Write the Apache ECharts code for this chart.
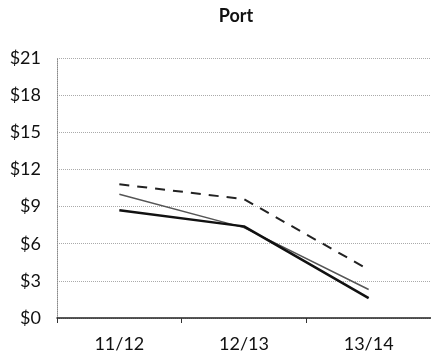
<!DOCTYPE html>
<html><head><meta charset="utf-8">
<script src="https://cdn.jsdelivr.net/npm/echarts@6/dist/echarts.min.js"></script>
<style>html,body{margin:0;padding:0;background:#fff}#c{width:431px;height:358px}</style>
</head><body><div id="c"></div>
<script>
var categories = ['11/12', '12/13', '13/14'];
var dashedSeries = [10.8, 9.6, 3.9];
var thinSeries = [10.0, 7.3, 2.3];
var thickSeries = [8.7, 7.4, 1.6];
var yTicks = [0, 3, 6, 9, 12, 15, 18, 21];

var chart = echarts.init(document.getElementById('c'));
var font = 'Lato, "Open Sans", sans-serif';
chart.setOption({
  animation: false,
  title: { text: 'Port', left: 231, top: 2, textAlign: 'center',
    textStyle: { fontFamily: font, fontSize: 18, fontWeight: 'bold', color: '#111' } },
  grid: { left: 57, right: 0, top: 58, bottom: 40 },
  xAxis: {
    type: 'category', data: categories, boundaryGap: true,
    axisLine: { lineStyle: { color: '#222', width: 1.5 } },
    axisTick: { show: true, length: 5, lineStyle: { color: '#333' } },
    axisLabel: { fontFamily: font, fontSize: 18, color: '#111', margin: 17 }
  },
  yAxis: {
    type: 'value', min: yTicks[0], max: yTicks[yTicks.length - 1], interval: 3,
    axisLine: { show: true, lineStyle: { color: '#888', type: 'dotted' } },
    axisTick: { show: false },
    splitLine: { lineStyle: { color: '#aaa', type: 'dotted' } },
    axisLabel: { fontFamily: font, fontSize: 18, color: '#111', margin: 16,
      formatter: function (v) { return '$' + v; } }
  },
  series: [
    { type: 'line', data: dashedSeries, symbol: 'none',
      lineStyle: { color: '#222', width: 2, type: [10, 8] } },
    { type: 'line', data: thinSeries, symbol: 'none',
      lineStyle: { color: '#555', width: 1.5 } },
    { type: 'line', data: thickSeries, symbol: 'none',
      lineStyle: { color: '#111', width: 2.5 } }
  ]
});
</script></body></html>
